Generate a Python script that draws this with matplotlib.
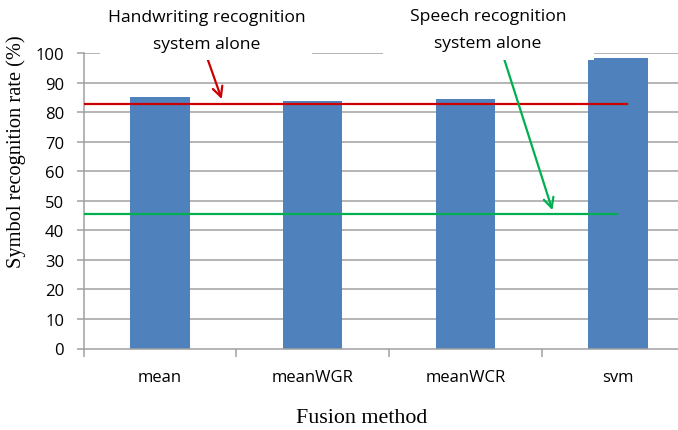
import matplotlib
matplotlib.use("Agg")
import matplotlib.pyplot as plt
from matplotlib.patches import Rectangle
import numpy as np

categories = ["mean", "meanWGR", "meanWCR", "svm"]
values = [85.2, 83.6, 84.3, 98.2]
handwriting_alone = 82.8
speech_alone = 45.5
yticks = list(range(0, 101, 10))

W, H = 678, 431
fig = plt.figure(figsize=(W / 100, H / 100), dpi=100)
left = 83.5 / W
right = 694.5 / W
bottom = (H - 349.5) / H
top = (H - 54) / H
ax = fig.add_axes([left, bottom, right - left, top - bottom])

x = np.arange(len(categories))
ax.bar(x, values, width=0.39, color="#4F81BD", zorder=2)
ax.set_xlim(-0.5, len(categories) - 0.5)
ax.set_ylim(0, 100)

grid_c = "#a0a0a0"
for v in yticks[1:]:
    ax.axhline(v, color=grid_c, lw=1.1, zorder=1)

for s in ["top", "right"]:
    ax.spines[s].set_visible(False)
ax.spines["left"].set_color(grid_c)
ax.spines["bottom"].set_color(grid_c)
ax.spines["left"].set_linewidth(1.1)
ax.spines["bottom"].set_linewidth(1.1)

tick_font = "Open Sans"
ax.set_yticks(yticks)
ax.set_yticklabels([str(t) for t in yticks], fontfamily=tick_font, fontsize=12)
ax.tick_params(axis="y", length=5, width=1.1, color=grid_c, pad=9)

ax.set_xticks(np.arange(len(categories) + 1) - 0.5)
ax.set_xticklabels([])
ax.tick_params(axis="x", which="major", length=5.8, width=1.1, color=grid_c)
ax.set_xticks(x, minor=True)
ax.set_xticklabels(categories, minor=True, fontfamily=tick_font, fontsize=12)
ax.tick_params(axis="x", which="minor", length=0, pad=15)

# reference lines
ax.plot([-0.5, 3.06], [handwriting_alone] * 2, color="#CC0000", lw=1.6, zorder=3)
ax.plot([-0.5, 2.99], [speech_alone] * 2, color="#00B050", lw=1.6, zorder=3)

# white text boxes covering top gridline
for (x0, x1) in [(100, 312), (383, 593.5)]:
    fig.patches.append(Rectangle((x0 / W, (H - 60.5) / H), (x1 - x0) / W, 60.5 / H,
                                 transform=fig.transFigure, facecolor="white",
                                 edgecolor="none", zorder=10))

hdr = 12.6
fig.text(207 / W, 1 - 18 / H, "Handwriting recognition", ha="center", va="center",
         fontfamily=tick_font, fontsize=hdr, zorder=11)
fig.text(207 / W, 1 - 45 / H, "system alone", ha="center", va="center",
         fontfamily=tick_font, fontsize=hdr, zorder=11)
fig.text(488 / W, 1 - 17 / H, "Speech recognition", ha="center", va="center",
         fontfamily=tick_font, fontsize=hdr, zorder=11)
fig.text(488 / W, 1 - 44 / H, "system alone", ha="center", va="center",
         fontfamily=tick_font, fontsize=hdr, zorder=11)

# arrows
ax.annotate("", xy=(0.405, 84.4), xytext=(0.31, 98.3),
            arrowprops=dict(arrowstyle="->", color="#CC0000", lw=1.6,
                            mutation_scale=18, shrinkA=0, shrinkB=0),
            annotation_clip=False, zorder=12)
ax.annotate("", xy=(2.57, 46.8), xytext=(2.25, 98.6),
            arrowprops=dict(arrowstyle="->", color="#00B050", lw=1.6,
                            mutation_scale=18, shrinkA=0, shrinkB=0),
            annotation_clip=False, zorder=12)

fig.text(16 / W, 1 - 152 / H, "Symbol recognition rate (%)", rotation=90,
         ha="center", va="center", fontfamily="Liberation Serif", fontsize=14.7)
fig.text(362 / W, 1 - 419 / H, "Fusion method", ha="center", va="center",
         fontfamily="Liberation Serif", fontsize=15.8)

fig.savefig("out.png", dpi=100)
